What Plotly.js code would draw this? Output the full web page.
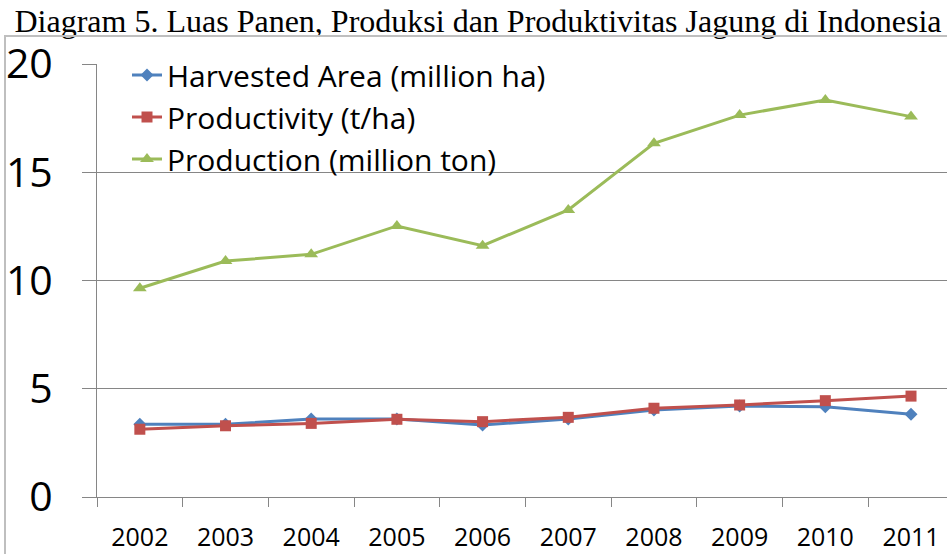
<!DOCTYPE html>
<html>
<head>
<meta charset="utf-8">
<script src="https://cdn.plot.ly/plotly-3.0.1.min.js"></script>
<style>
html,body{margin:0;padding:0;background:#fff;}
#wrap{position:relative;width:947px;height:554px;}
#chart{width:947px;height:554px;}
#frame{position:absolute;left:4px;top:35px;width:960px;height:560px;border-left:2px solid #bfbfbf;border-top:2px solid #bfbfbf;pointer-events:none;}
</style>
</head>
<body>
<div id="wrap">
<div id="chart"></div>
<div id="frame"></div>
</div>
<script>
const years = ["2002","2003","2004","2005","2006","2007","2008","2009","2010","2011"];
const harvestedArea = [3.36, 3.36, 3.60, 3.60, 3.33, 3.60, 4.02, 4.20, 4.17, 3.82];
const productivity = [3.13, 3.29, 3.40, 3.59, 3.48, 3.68, 4.10, 4.25, 4.45, 4.66];
const production = [9.64, 10.90, 11.21, 12.52, 11.61, 13.26, 16.34, 17.64, 18.34, 17.57];
const yTicks = [0, 5, 10, 15, 20];

const names = ["Harvested Area (million ha)", "Productivity (t/ha)", "Production (million ton)"];
const colors = ["#4F81BD", "#C0504D", "#9BBB59"];

const traces = [
  {x: years, y: harvestedArea, name: names[0], legendgroup: "a", type: "scatter", mode: "lines+markers",
   line: {color: colors[0], width: 3}, marker: {symbol: "diamond", size: 10, color: colors[0]}},
  {x: years, y: productivity, name: names[1], legendgroup: "b", type: "scatter", mode: "lines+markers",
   line: {color: colors[1], width: 3}, marker: {symbol: "square", size: 11, color: colors[1]}},
  {x: years, y: production, name: names[2], legendgroup: "c", type: "scatter", mode: "lines+markers",
   line: {color: colors[2], width: 3}, marker: {symbol: "triangle-up", size: 12, color: colors[2]}}
];

const layout = {
  width: 947, height: 554,
  margin: {l: 97, r: 0, t: 64, b: 57},
  paper_bgcolor: "rgba(0,0,0,0)", plot_bgcolor: "rgba(0,0,0,0)",
  showlegend: true,
  title: {
    text: "Diagram 5. Luas Panen, Produksi dan Produktivitas Jagung di Indonesia",
    font: {family: "Liberation Serif, Times New Roman, serif", size: 32, color: "#000"},
    x: 478/947, xanchor: "center", xref: "container",
    yref: "container", y: 1 - 21/554, yanchor: "middle"
  },
  xaxis: {
    type: "category", range: [-0.5, 9.42], fixedrange: true,
    showgrid: false, showline: true, linecolor: "#868686", linewidth: 1,
    ticks: "outside", tickson: "boundaries", ticklen: 9, tickcolor: "#868686",
    tickfont: {family: "Open Sans, sans-serif", size: 25, color: "#000"},
    ticklabelstandoff: 18
  },
  yaxis: {
    range: [0, 20], tickvals: yTicks, ticktext: yTicks.map(String), fixedrange: true,
    showgrid: true, gridcolor: "#868686", gridwidth: 1,
    showline: true, linecolor: "#868686", linewidth: 1, zeroline: false,
    ticks: "outside", ticklen: 14, tickcolor: "#868686",
    tickfont: {family: "Open Sans, sans-serif", size: 41, color: "#000"},
    ticklabelstandoff: 21
  },
  legend: {
    x: (127 - 97) / 850, y: (497 - 49) / 433, xanchor: "left", yanchor: "top",
    bgcolor: "rgba(0,0,0,0)", borderwidth: 0,
    font: {family: "Open Sans, sans-serif", size: 30, color: "#000"},
    tracegroupgap: 0, itemwidth: 30
  }
};

Plotly.newPlot("chart", traces, layout, {displayModeBar: false, staticPlot: true});
</script>
</body>
</html>
